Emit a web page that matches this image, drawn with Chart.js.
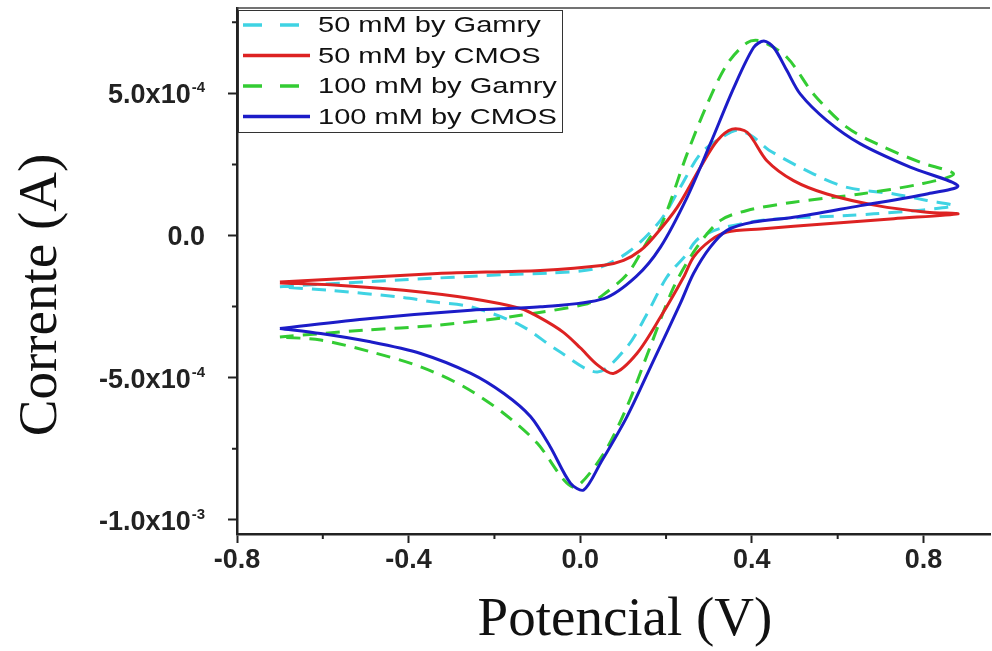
<!DOCTYPE html>
<html lang="en">
<head>
    <meta charset="UTF-8">
    <title>Cyclic voltammetry</title>
    <script src="https://cdn.jsdelivr.net/npm/chart.js"></script>
    <style>
        body { margin: 0; background: #fff; }
    </style>
</head>
<body>
    <canvas id="cvChart" width="992" height="651"></canvas>
    <script>
        // Potential (V) and current (A) along each scan: forward to the vertex, then back
        const gamry50V = [-0.70, -0.411, -0.178, -0.070, 0.040, 0.117, 0.187, 0.233, 0.280, 0.33, 0.365, 0.40, 0.44, 0.544, 0.622, 0.731, 0.808, 0.87,
                          0.80, 0.684, 0.622, 0.435, 0.327, 0.280, 0.264, 0.249, 0.202, 0.156, 0.109, 0.040, -0.053, -0.139, -0.255, -0.341, -0.426, -0.582, -0.70];
        const gamry50I = [-1.80e-4, -1.56e-4, -1.38e-4, -1.32e-4, -1.15e-4, -0.53e-4, 0.53e-4, 1.69e-4, 2.87e-4, 3.45e-4, 3.70e-4, 3.50e-4, 3.00e-4, 2.16e-4, 1.69e-4, 1.46e-4, 1.23e-4, 1.05e-4,
                          0.90e-4, 0.76e-4, 0.70e-4, 0.55e-4, 0.25e-4, -0.06e-4, -0.29e-4, -0.64e-4, -1.46e-4, -2.75e-4, -3.92e-4, -4.80e-4, -4.04e-4, -3.16e-4, -2.51e-4, -2.34e-4, -2.16e-4, -1.93e-4, -1.81e-4];

        const cmos50V = [-0.70, -0.333, -0.093, 0.055, 0.101, 0.14, 0.171, 0.226, 0.280, 0.319, 0.354, 0.389, 0.435, 0.497, 0.575, 0.692, 0.808, 0.88,
                         0.731, 0.575, 0.420, 0.342, 0.303, 0.264, 0.241, 0.187, 0.132, 0.078, 0.04, 0.0, -0.04, -0.093, -0.139, -0.255, -0.411, -0.566, -0.70];
        const cmos50I = [-1.64e-4, -1.34e-4, -1.23e-4, -1.05e-4, -0.88e-4, -0.53e-4, -0.06e-4, 0.99e-4, 2.40e-4, 3.33e-4, 3.74e-4, 3.63e-4, 2.63e-4, 1.93e-4, 1.46e-4, 1.05e-4, 0.82e-4, 0.76e-4,
                         0.59e-4, 0.41e-4, 0.23e-4, 0.12e-4, -0.18e-4, -0.76e-4, -1.46e-4, -2.87e-4, -4.15e-4, -4.85e-4, -4.55e-4, -3.95e-4, -3.40e-4, -2.90e-4, -2.57e-4, -2.22e-4, -1.93e-4, -1.75e-4, -1.67e-4];

        const gamry100V = [-0.70, -0.504, -0.333, -0.139, 0.017, 0.047, 0.11, 0.163, 0.187, 0.249, 0.296, 0.342, 0.389, 0.420, 0.482, 0.544, 0.622, 0.700, 0.793, 0.87,
                           0.793, 0.653, 0.497, 0.389, 0.327, 0.272, 0.218, 0.163, 0.109, 0.055, -0.01, -0.038, -0.100, -0.178, -0.271, -0.372, -0.489, -0.605, -0.70];
        const gamry100I = [-3.57e-4, -3.33e-4, -3.16e-4, -2.81e-4, -2.40e-4, -2.16e-4, -1.35e-4, -0.06e-4, 0.29e-4, 2.87e-4, 4.62e-4, 6.02e-4, 6.78e-4, 6.84e-4, 6.26e-4, 4.97e-4, 3.80e-4, 3.16e-4, 2.57e-4, 2.16e-4,
                           1.81e-4, 1.46e-4, 1.17e-4, 0.88e-4, 0.53e-4, -0.41e-4, -1.81e-4, -3.92e-4, -6.02e-4, -7.66e-4, -8.85e-4, -8.60e-4, -7.31e-4, -6.26e-4, -5.32e-4, -4.62e-4, -4.09e-4, -3.68e-4, -3.57e-4];

        const cmos100V = [-0.70, -0.489, -0.255, -0.093, 0.055, 0.13, 0.187, 0.249, 0.303, 0.358, 0.404, 0.428, 0.451, 0.482, 0.513, 0.575, 0.653, 0.769, 0.88,
                          0.808, 0.653, 0.497, 0.404, 0.342, 0.303, 0.264, 0.233, 0.171, 0.109, 0.047, 0.008, -0.023, -0.070, -0.116, -0.178, -0.255, -0.372, -0.489, -0.605, -0.70];
        const cmos100I = [-3.27e-4, -2.92e-4, -2.63e-4, -2.51e-4, -2.22e-4, -1.45e-4, -0.41e-4, 1.34e-4, 3.22e-4, 5.20e-4, 6.61e-4, 6.84e-4, 6.61e-4, 5.79e-4, 4.97e-4, 4.04e-4, 3.22e-4, 2.40e-4, 1.75e-4,
                          1.46e-4, 1.05e-4, 0.64e-4, 0.47e-4, 0.18e-4, -0.41e-4, -1.34e-4, -2.40e-4, -4.39e-4, -6.37e-4, -8.01e-4, -8.95e-4, -8.71e-4, -7.43e-4, -6.37e-4, -5.56e-4, -4.85e-4, -4.15e-4, -3.74e-4, -3.45e-4, -3.27e-4];

        const seriesLabels = ['50 mM by Gamry', '50 mM by CMOS', '100 mM by Gamry', '100 mM by CMOS'];

        const xTicks = [-0.8, -0.4, 0.0, 0.4, 0.8];
        const xTickLabels = ['-0.8', '-0.4', '0.0', '0.4', '0.8'];
        const xMinorTicks = [-0.6, -0.2, 0.2, 0.6];
        const yTicks = [-1.0e-3, -5.0e-4, 0, 5.0e-4];
        const yTickBase = ['-1.0x10', '-5.0x10', '0.0', '5.0x10'];
        const yTickExp = ['-3', '-4', '', '-4'];
        const yMinorTicks = [-7.5e-4, -2.5e-4, 2.5e-4, 7.5e-4];

        const xTitle = 'Potencial (V)';
        const yTitle = 'Corrente (A)';

        const toPoints = (vs, is) => vs.map((v, i) => ({ x: v, y: is[i] }));

        function series(label, vs, is, color, dashed, order) {
            return {
                label: label,
                data: toPoints(vs, is),
                borderColor: color,
                borderWidth: 3,
                borderDash: dashed ? [14, 9] : [],
                showLine: true,
                pointRadius: 0,
                tension: 0.3,
                fill: false,
                order: order
            };
        }

        // short inner ticks between the labelled ones, plus the thin top edge
        const minorTicks = {
            id: 'minorTicks',
            afterDraw(chart) {
                const { ctx, chartArea, scales } = chart;
                ctx.save();
                ctx.strokeStyle = '#222';
                ctx.lineWidth = 2;
                ctx.beginPath();
                xMinorTicks.forEach(v => {
                    const px = scales.x.getPixelForValue(v);
                    ctx.moveTo(px, chartArea.bottom);
                    ctx.lineTo(px, chartArea.bottom + 5);
                });
                yMinorTicks.forEach(v => {
                    const py = scales.y.getPixelForValue(v);
                    ctx.moveTo(chartArea.left, py);
                    ctx.lineTo(chartArea.left - 5, py);
                });
                ctx.stroke();
                ctx.strokeStyle = '#444';
                ctx.lineWidth = 1.5;
                ctx.beginPath();
                ctx.moveTo(chartArea.left, chartArea.top);
                ctx.lineTo(chartArea.right, chartArea.top);
                ctx.stroke();
                ctx.restore();
            }
        };

        // y labels with raised exponents, and both axis titles
        const axisText = {
            id: 'axisText',
            afterDraw(chart) {
                const { ctx, chartArea, scales } = chart;
                const baseFont = 'bold 27px "Liberation Sans", Arial, sans-serif';
                const expFont = 'bold 15px "Liberation Sans", Arial, sans-serif';
                const right = chartArea.left - 32;
                ctx.save();
                ctx.fillStyle = '#222';
                ctx.textBaseline = 'alphabetic';
                ctx.textAlign = 'left';
                yTicks.forEach((v, i) => {
                    const py = scales.y.getPixelForValue(v);
                    ctx.font = expFont;
                    const expW = yTickExp[i] ? ctx.measureText(yTickExp[i]).width + 1 : 0;
                    ctx.font = baseFont;
                    const baseW = ctx.measureText(yTickBase[i]).width;
                    const x = right - expW - baseW;
                    ctx.fillText(yTickBase[i], x, py + 10);
                    if (yTickExp[i]) {
                        ctx.font = expFont;
                        ctx.fillText(yTickExp[i], x + baseW + 1, py - 1);
                    }
                });

                ctx.fillStyle = '#111';
                ctx.font = '55px "Liberation Serif", "Times New Roman", serif';
                ctx.textAlign = 'center';
                ctx.textBaseline = 'middle';
                ctx.fillText(xTitle, 625, 621);
                ctx.translate(42, 295);
                ctx.rotate(-Math.PI / 2);
                ctx.fillText(yTitle, 0, 0);
                ctx.restore();
            }
        };

        // boxed legend in the upper left corner of the plot
        const boxLegend = {
            id: 'boxLegend',
            afterDraw(chart) {
                const { ctx, chartArea } = chart;
                const x0 = chartArea.left + 1, y0 = chartArea.top + 2;
                const w = 324, h = 122;
                ctx.save();
                ctx.fillStyle = '#fff';
                ctx.fillRect(x0, y0, w, h);
                ctx.strokeStyle = '#333';
                ctx.lineWidth = 1;
                ctx.strokeRect(x0 + 0.5, y0 + 0.5, w, h);
                chart.data.datasets.forEach((ds, i) => {
                    const y = y0 + 15 + i * 30.5;
                    ctx.strokeStyle = ds.borderColor;
                    ctx.lineWidth = 3.5;
                    ctx.setLineDash(ds.borderDash.length ? [19, 18] : []);
                    ctx.beginPath();
                    ctx.moveTo(x0 + 5, y);
                    ctx.lineTo(x0 + 72, y);
                    ctx.stroke();
                    ctx.setLineDash([]);
                    ctx.fillStyle = '#111';
                    ctx.font = '22px "Liberation Sans", Arial, sans-serif';
                    ctx.textBaseline = 'middle';
                    ctx.save();
                    ctx.translate(x0 + 80, y);
                    ctx.scale(1.32, 1);
                    ctx.fillText(ds.label, 0, 1);
                    ctx.restore();
                });
                ctx.restore();
            }
        };

        const tickFont = { family: '"Liberation Sans", Arial, sans-serif', size: 27, weight: 'bold' };

        new Chart(document.getElementById('cvChart').getContext('2d'), {
            type: 'scatter',
            data: {
                datasets: [
                    series(seriesLabels[0], gamry50V, gamry50I, '#3fd3e3', true, 3),
                    series(seriesLabels[1], cmos50V, cmos50I, '#dd2222', false, 1),
                    series(seriesLabels[2], gamry100V, gamry100I, '#33cc33', true, 2),
                    series(seriesLabels[3], cmos100V, cmos100I, '#1c1cc8', false, 0)
                ]
            },
            options: {
                responsive: false,
                devicePixelRatio: 1,
                animation: false,
                layout: { padding: { top: 8, right: 2, left: 0, bottom: 0 } },
                plugins: {
                    legend: { display: false },
                    tooltip: { enabled: false }
                },
                scales: {
                    x: {
                        type: 'linear',
                        min: -0.8,
                        max: 0.955,
                        afterBuildTicks: s => { s.ticks = xTicks.map(v => ({ value: v })); },
                        afterFit: s => { s.height = 117; s.paddingLeft = 0; s.paddingRight = 0; },
                        ticks: {
                            callback: (v, i) => xTickLabels[i],
                            font: tickFont,
                            color: '#222',
                            padding: 1,
                            maxRotation: 0
                        },
                        grid: { drawOnChartArea: false, tickLength: 9, tickWidth: 2, tickColor: '#222' },
                        border: { color: '#222', width: 2.5 }
                    },
                    y: {
                        type: 'linear',
                        min: -1.05e-3,
                        max: 8.0e-4,
                        afterBuildTicks: s => { s.ticks = yTicks.map(v => ({ value: v })); },
                        afterFit: s => { s.width = 237; s.paddingTop = 0; s.paddingBottom = 0; },
                        ticks: { display: false },
                        grid: { drawOnChartArea: false, tickLength: 9, tickWidth: 2, tickColor: '#222' },
                        border: { color: '#222', width: 2.5 }
                    }
                }
            },
            plugins: [minorTicks, axisText, boxLegend]
        });
    </script>
</body>
</html>
